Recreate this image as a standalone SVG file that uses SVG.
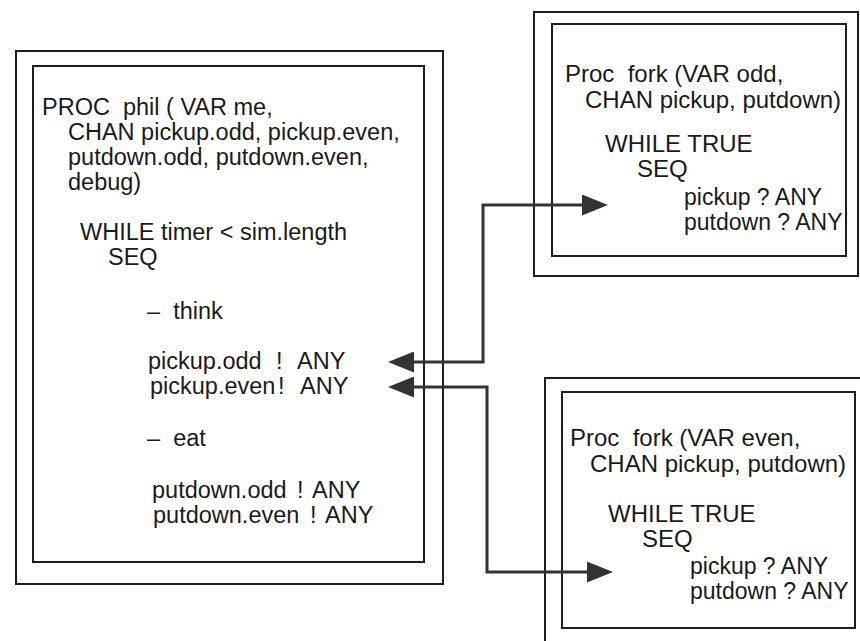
<svg xmlns="http://www.w3.org/2000/svg" width="860" height="641" viewBox="0 0 860 641">
  <style>
    .frame { fill: none; stroke: #1e1e1e; stroke-width: 2; }
    .code { font-family: "Liberation Sans", Arial, sans-serif; font-size: 23.5px; fill: #1a1a1a; white-space: pre; }
    .fork { font-size: 24px; }
    .io { font-size: 23px; }
    .wire { fill: none; stroke: #333333; stroke-width: 3; stroke-linejoin: miter; }
  </style>
  <defs>
    <marker id="arrow" viewBox="0 0 26 21" markerWidth="26" markerHeight="21" markerUnits="userSpaceOnUse" refX="5" refY="10.5" orient="auto-start-reverse">
      <path d="M0,0 L26,10.5 L0,21 z" fill="#333333"/>
    </marker>
  </defs>
  <rect width="860" height="641" fill="#ffffff"/>

  <g id="phil">
    <rect class="frame" x="16" y="51" width="427" height="533"/>
    <rect class="frame" x="33" y="66" width="391" height="496"/>
    <text class="code" x="42" y="115" xml:space="preserve">PROC  phil ( VAR me,</text>
    <text class="code" x="68" y="140">CHAN pickup.odd, pickup.even,</text>
    <text class="code" x="68" y="165">putdown.odd, putdown.even,</text>
    <text class="code" x="68" y="190">debug)</text>
    <text class="code" x="80" y="240">WHILE timer &lt; sim.length</text>
    <text class="code" x="108" y="265">SEQ</text>
    <text class="code" x="147" y="319" xml:space="preserve">–  think</text>
    <text class="code" x="148" y="369">pickup.odd<tspan x="276">!</tspan><tspan x="297">ANY</tspan></text>
    <text class="code" x="150" y="394">pickup.even<tspan x="278">!</tspan><tspan x="300">ANY</tspan></text>
    <text class="code" x="147" y="446" xml:space="preserve">–  eat</text>
    <text class="code" x="152" y="498">putdown.odd<tspan x="297">!</tspan><tspan x="312">ANY</tspan></text>
    <text class="code" x="153" y="523">putdown.even<tspan x="310">!</tspan><tspan x="325">ANY</tspan></text>
  </g>

  <g id="fork-odd">
    <rect class="frame" x="534" y="12" width="324" height="264"/>
    <rect class="frame" x="552" y="24" width="294" height="232"/>
    <text class="code fork" x="565" y="82" xml:space="preserve">Proc  fork (VAR odd,</text>
    <text class="code fork" x="585" y="108">CHAN pickup, putdown)</text>
    <text class="code fork" x="605" y="152">WHILE TRUE</text>
    <text class="code fork" x="637" y="177">SEQ</text>
    <text class="code io" x="684" y="205">pickup ? ANY</text>
    <text class="code io" x="684" y="230">putdown ? ANY</text>
  </g>

  <g id="fork-even">
    <rect class="frame" x="545" y="378" width="330" height="300"/>
    <rect class="frame" x="562" y="392" width="293" height="236"/>
    <text class="code fork" x="570" y="446" xml:space="preserve">Proc  fork (VAR even,</text>
    <text class="code fork" x="590" y="472">CHAN pickup, putdown)</text>
    <text class="code fork" x="608" y="522">WHILE TRUE</text>
    <text class="code fork" x="642" y="547">SEQ</text>
    <text class="code io" x="690" y="574">pickup ? ANY</text>
    <text class="code io" x="690" y="599">putdown ? ANY</text>
  </g>

  <g id="connectors">
    <path class="wire" d="M409,362 H483 V205 H587" marker-start="url(#arrow)" marker-end="url(#arrow)"/>
    <path class="wire" d="M409,387 H487 V572 H592" marker-start="url(#arrow)" marker-end="url(#arrow)"/>
  </g>
</svg>
